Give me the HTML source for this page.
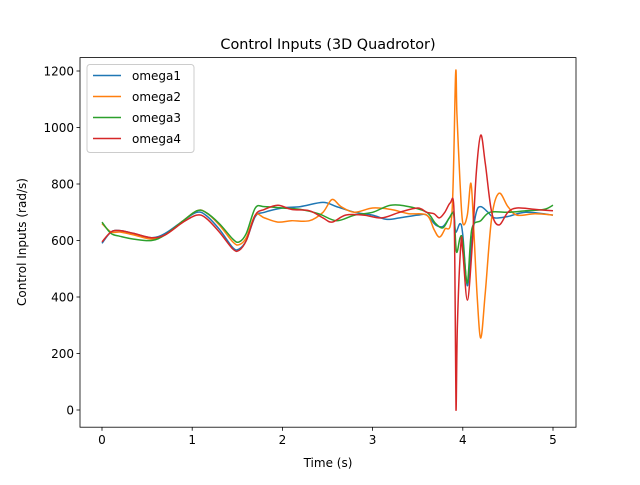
<!DOCTYPE html>
<html><head><meta charset="utf-8"><style>
body{margin:0;background:#fff;font-family:"Liberation Sans","DejaVu Sans",sans-serif}
svg text{font-family:"DejaVu Sans","Liberation Sans",sans-serif}
</style></head><body>
<svg id="chart" width="640" height="480" xmlns="http://www.w3.org/2000/svg"></svg>
<script>
const seriesNames=["omega1","omega2","omega3","omega4"];
const colors=["#1f77b4","#ff7f0e","#2ca02c","#d62728"];
const xTicks=[0,1,2,3,4,5];
const yTicks=[0,200,400,600,800,1000,1200];
const t1=[0,0.1,0.2,0.35,0.55,0.7,0.9,1.05,1.15,1.3,1.45,1.52,1.6,1.7,1.8,2.0,2.2,2.45,2.6,2.8,3.0,3.15,3.3,3.5,3.6,3.7,3.78,3.85,3.9,3.92,3.97,4.0,4.05,4.1,4.15,4.2,4.28,4.35,4.5,4.7,5];
const v1=[590,630,635,625,610,625,670,700,690,640,575,570,600,685,700,715,720,735,720,700,690,675,680,690,690,655,650,680,700,630,660,620,440,600,700,720,700,680,685,700,690];
const t2=[0,0.1,0.2,0.35,0.55,0.7,0.9,1.05,1.15,1.3,1.45,1.52,1.6,1.7,1.8,1.95,2.1,2.3,2.45,2.55,2.65,2.8,3.0,3.2,3.4,3.6,3.68,3.74,3.8,3.88,3.92,3.935,3.97,4.0,4.05,4.09,4.12,4.16,4.2,4.25,4.32,4.4,4.5,4.6,4.8,5];
const v2=[660,630,630,620,605,620,670,705,700,655,595,585,610,690,680,665,670,670,700,745,720,700,715,710,695,690,640,612,640,700,1189,1050,800,662,690,803,650,400,255,420,680,767,720,690,695,690];
const t3=[0,0.1,0.2,0.35,0.55,0.7,0.9,1.05,1.15,1.3,1.45,1.52,1.6,1.7,1.8,2.0,2.2,2.4,2.6,2.8,3.0,3.2,3.4,3.6,3.7,3.78,3.85,3.9,3.93,3.97,4.0,4.05,4.1,4.2,4.3,4.5,4.7,4.9,5];
const v3=[665,625,615,605,600,620,670,705,700,660,605,595,625,715,720,715,710,695,670,690,700,725,720,700,660,645,680,690,560,610,600,450,640,670,700,700,705,710,725];
const t4=[0,0.1,0.2,0.35,0.55,0.7,0.9,1.05,1.15,1.3,1.45,1.52,1.6,1.7,1.8,1.95,2.1,2.3,2.45,2.55,2.7,2.9,3.1,3.3,3.5,3.6,3.68,3.74,3.8,3.86,3.9,3.915,3.925,3.94,3.98,4.0,4.05,4.1,4.15,4.2,4.25,4.32,4.4,4.5,4.6,4.8,5];
const v4=[595,630,635,625,610,620,665,690,680,630,570,565,600,690,710,725,710,705,680,665,690,690,680,700,715,700,695,680,700,733,720,400,0,300,594,560,389,560,840,973,870,700,655,700,715,710,705];
const ts=[t1,t2,t3,t4], vs=[v1,v2,v3,v4];
const L=80,R=576,T=57.6,B=427.2;
const x=t=>102+t*90.2;
const y=v=>410-v*0.2825;
const svg=document.getElementById('chart');
const NS='http://www.w3.org/2000/svg';
function mk(tag,attrs,parent){const e=document.createElementNS(NS,tag);for(const k in attrs)e.setAttribute(k,attrs[k]);(parent||svg).appendChild(e);return e;}
function txt(s,attrs){const e=mk('text',attrs);e.textContent=s;return e;}
function smooth(P){
 let d='M'+P[0][0].toFixed(1)+','+P[0][1].toFixed(1);
 for(let i=0;i<P.length-1;i++){
  const p0=P[Math.max(0,i-1)],p1=P[i],p2=P[i+1],p3=P[Math.min(P.length-1,i+2)];
  const c1x=p1[0]+(p2[0]-p0[0])/6,c1y=p1[1]+(p2[1]-p0[1])/6;
  const c2x=p2[0]-(p3[0]-p1[0])/6,c2y=p2[1]-(p3[1]-p1[1])/6;
  d+=' C'+c1x.toFixed(1)+','+c1y.toFixed(1)+' '+c2x.toFixed(1)+','+c2y.toFixed(1)+' '+p2[0].toFixed(1)+','+p2[1].toFixed(1);
 }
 return d;
}
const tt=txt("Control Inputs (3D Quadrotor)",{x:328,y:49,'text-anchor':'middle','font-size':14.4,fill:'#000'});


xTicks.forEach(v=>{
 const l=mk('line',{x1:x(v),x2:x(v),y1:B,y2:B+3.5,stroke:'#000','stroke-width':0.8});
 
 
 const t=txt(String(v),{x:x(v),y:B+17,'text-anchor':'middle','font-size':12});
 
 
});
yTicks.forEach(v=>{
 const l=mk('line',{x1:L-3.5,x2:L,y1:y(v),y2:y(v),stroke:'#000','stroke-width':0.8});
 
 
 const t=txt(String(v),{x:L-6,y:y(v)+4.3,'text-anchor':'end','font-size':12});
 
 
});
const xl=txt("Time (s)",{x:328,y:467,'text-anchor':'middle','font-size':12});


const yl=txt("Control Inputs (rad/s)",{x:26,y:242,'text-anchor':'middle','font-size':12,transform:'rotate(-90 26 242)'});


const clip=mk('clipPath',{id:'cp'});mk('rect',{x:L,y:T,width:R-L,height:B-T},clip);
ts.forEach((tt,i)=>{
 const pts=tt.map((t,j)=>[x(t),y(vs[i][j])]);
 const p=mk('path',{d:smooth(pts),fill:'none',stroke:colors[i],'stroke-width':1.5,'stroke-linejoin':'round','clip-path':'url(#cp)'});
 
 
});
const fr=mk('rect',{x:L,y:T,width:R-L,height:B-T,fill:'none',stroke:'#000','stroke-width':0.8});


const lg=mk('rect',{x:87,y:64.5,width:107,height:88,rx:3,fill:'#fff','fill-opacity':0.8,stroke:'#ccc','stroke-width':1});


seriesNames.forEach((n,i)=>{
 const yy=75.5+i*21;
 const l=mk('line',{x1:93,x2:121,y1:yy,y2:yy,stroke:colors[i],'stroke-width':1.5});
 
 
 const t=txt(n,{x:132,y:yy+4.3,'font-size':12});
 
 
});
</script>
</body></html>
